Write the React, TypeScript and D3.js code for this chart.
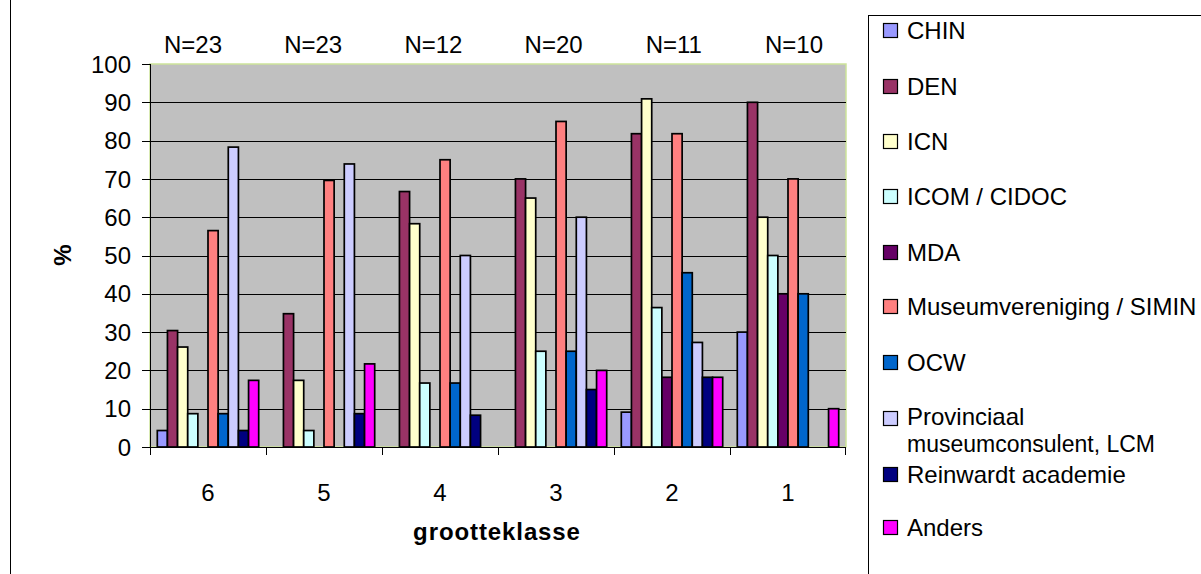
import React from "react";
import * as d3 from "d3";

const categories = ["6", "5", "4", "3", "2", "1"];
const nLabels = ["N=23", "N=23", "N=12", "N=20", "N=11", "N=10"];
const seriesNames = [
  "CHIN",
  "DEN",
  "ICN",
  "ICOM / CIDOC",
  "MDA",
  "Museumvereniging / SIMIN",
  "OCW",
  "Provinciaal museumconsulent, LCM",
  "Reinwardt academie",
  "Anders",
];
const seriesColors = [
  "#9999FF", "#993366", "#FFFFCC", "#CCFFFF", "#660066",
  "#FF8080", "#0066CC", "#CCCCFF", "#000080", "#FF00FF",
];
const CHIN = [4.3, 0, 0, 0, 9.1, 30];
const DEN = [30.4, 34.8, 66.7, 70, 81.8, 90];
const ICN = [26.1, 17.4, 58.3, 65, 90.9, 60];
const ICOM = [8.7, 4.3, 16.7, 25, 36.4, 50];
const MDA = [0, 0, 0, 0, 18.2, 40];
const MUSEUM = [56.5, 69.6, 75, 85, 81.8, 70];
const OCW = [8.7, 0, 16.7, 25, 45.5, 40];
const PROV = [78.3, 73.9, 50, 60, 27.3, 0];
const REINWARDT = [4.3, 8.7, 8.3, 15, 18.2, 0];
const ANDERS = [17.4, 21.7, 0, 20, 18.2, 10];
const seriesValues = [CHIN, DEN, ICN, ICOM, MDA, MUSEUM, OCW, PROV, REINWARDT, ANDERS];
const yTicks = [0, 10, 20, 30, 40, 50, 60, 70, 80, 90, 100];

export default function App() {
  const W = 1201, H = 574;
  const left = 150, right = 846, top = 64, bottom = 447;
  const font = "Liberation Sans, Arial, sans-serif";
  const fs = 24;
  const x0 = d3.scaleBand<string>().domain(categories).range([left, right]).paddingInner(0).paddingOuter(0);
  const x1 = d3.scaleBand<string>().domain(seriesNames).range([0, x0.bandwidth()]).paddingOuter(0.72).paddingInner(0);
  const y = d3.scaleLinear().domain([0, 100]).range([bottom, top]);
  const nScale = d3.scalePoint<string>().domain(categories).range([193, 794]);

  const legendY = [30, 86, 141, 196, 252, 306, 362, 416, 474, 527];

  return (
    <svg width={W} height={H} style={{ position: "absolute", left: 0, top: 0, background: "#fff" }} fontFamily={font}>
      <rect x={0} y={0} width={W} height={H} fill="#fff" />
      <line x1={10.5} y1={0} x2={10.5} y2={H} stroke="#000" strokeWidth={1} />
      {/* plot area */}
      <rect x={left} y={top} width={right - left} height={bottom - top} fill="#C0C0C0" stroke="#CDE39A" strokeWidth={1.5} />
      {yTicks.filter(t => t > 0 && t < 100).map(t => (
        <line key={t} x1={left} x2={right} y1={Math.round(y(t)) + 0.5} y2={Math.round(y(t)) + 0.5} stroke="#000" strokeWidth={1} />
      ))}
      {/* bars */}
      {categories.map((c, ci) => (
        <g key={c} transform={`translate(${x0(c)},0)`}>
          {seriesNames.map((s, si) => {
            const v = seriesValues[si][ci];
            if (v <= 0) return null;
            return (
              <rect key={s} x={x1(s)!} y={y(v)} width={x1.bandwidth()} height={y(0) - y(v)}
                fill={seriesColors[si]} stroke="#000" strokeWidth={1.7} />
            );
          })}
        </g>
      ))}
      {/* axes */}
      <line x1={left + 0.5} x2={left + 0.5} y1={top} y2={bottom} stroke="#000" />
      <line x1={left} x2={right} y1={bottom + 0.5} y2={bottom + 0.5} stroke="#000" />
      {yTicks.map(t => (
        <g key={t}>
          <line x1={left - 8} x2={left} y1={Math.round(y(t)) + 0.5} y2={Math.round(y(t)) + 0.5} stroke="#000" />
          <text x={left - 19} y={y(t)} dy="0.36em" textAnchor="end" fontSize={fs}>{t}</text>
        </g>
      ))}
      {categories.map((c) => (
        <line key={"tk" + c} x1={x0(c)! + 0.5} x2={x0(c)! + 0.5} y1={bottom} y2={bottom + 8} stroke="#000" />
      ))}
      <line x1={right - 0.5} x2={right - 0.5} y1={bottom} y2={bottom + 8} stroke="#000" />
      {categories.map(c => (
        <text key={"xl" + c} x={x0(c)! + x0.bandwidth() / 2} y={492} dy="0.36em" textAnchor="middle" fontSize={fs}>{c}</text>
      ))}
      {categories.map((c, i) => (
        <text key={"n" + c} x={nScale(c)!} y={44} dy="0.36em" textAnchor="middle" fontSize={fs}>{nLabels[i]}</text>
      ))}
      <text transform="translate(62,255) rotate(-90)" textAnchor="middle" dy="0.36em" fontSize={fs} fontWeight="bold">%</text>
      <text x={497} y={531} dy="0.36em" textAnchor="middle" fontSize={fs} fontWeight="bold" letterSpacing={0.9}>grootteklasse</text>
      {/* legend */}
      <rect x={868.5} y={15.5} width={400} height={600} fill="#fff" stroke="#000" strokeWidth={1} />
      {seriesNames.map((s, i) => {
        const yy = legendY[i];
        const lines = i === 7 ? ["Provinciaal", "museumconsulent, LCM"] : [s];
        return (
          <g key={"lg" + s}>
            <rect x={883.5} y={(i === 7 ? yy + 2 : yy) - 6.5} width={14} height={14} fill={seriesColors[i]} stroke="#000" strokeWidth={1.2} />
            {lines.map((l, li) => (
              <text key={li} x={907} y={yy + li * 28} dy="0.36em" fontSize={i === 7 && li === 1 ? 23 : fs}>{l}</text>
            ))}
          </g>
        );
      })}
    </svg>
  );
}
